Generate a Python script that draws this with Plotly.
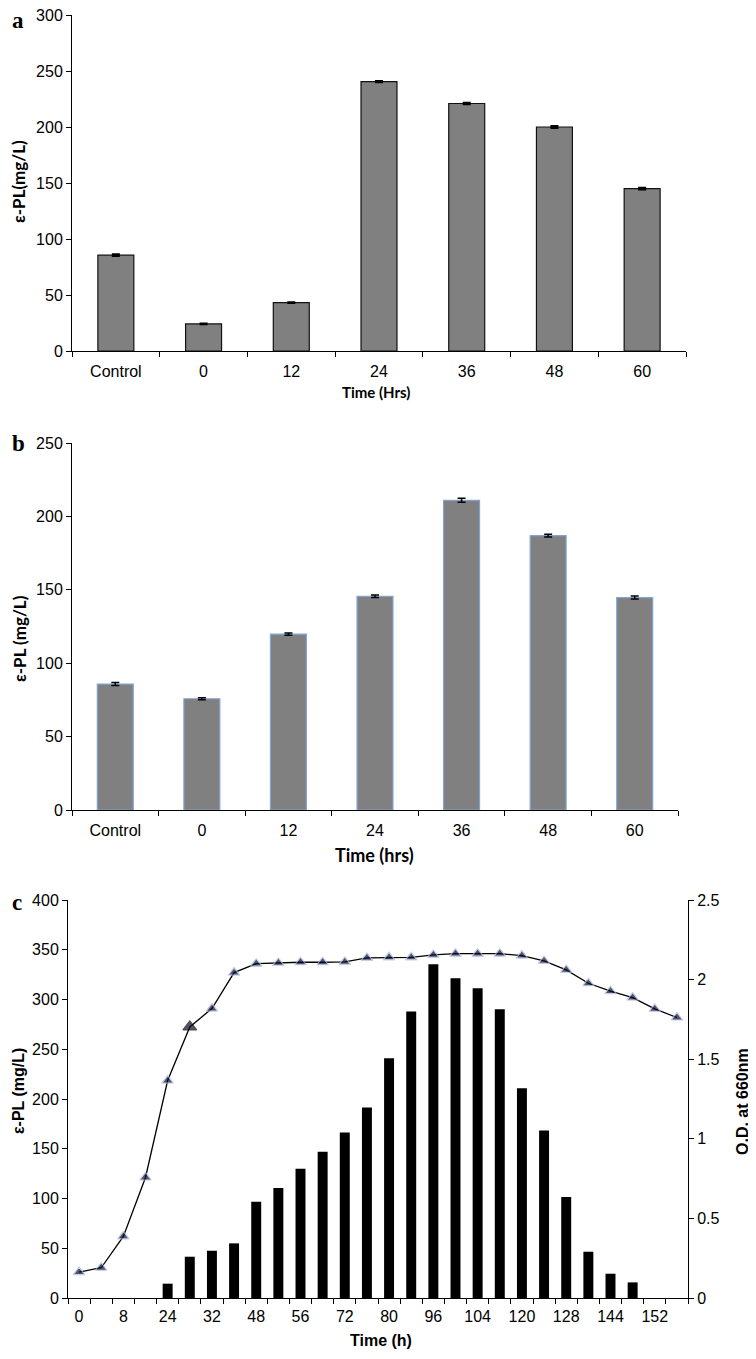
import plotly.graph_objects as go

# panel a - epsilon-PL after feeding at different times
cats_a = ["Control", "0", "12", "24", "36", "48", "60"]
epl_a = [85.6, 24.2, 43.2, 240.5, 221.0, 200.0, 145.0]
err_a = [0.8, 0.3, 0.4, 0.6, 0.7, 0.9, 0.7]

# panel b
cats_b = ["Control", "0", "12", "24", "36", "48", "60"]
epl_b = [85.8, 75.8, 119.8, 145.6, 211.0, 186.9, 144.7]
err_b = [1.0, 0.7, 0.8, 0.9, 1.4, 1.0, 1.0]

# panel c - time course, every other hour labelled on the axis
hours_c = [0, 4, 8, 12, 24, 28, 32, 36, 48, 52, 56, 60, 72, 76, 80, 84,
           96, 100, 104, 108, 120, 124, 128, 132, 144, 148, 152, 156]
epl_c = [None, None, None, None, 14.4, 41.5, 47.5, 54.9, 96.7, 110.5, 129.9, 147.0,
         166.4, 191.5, 241.0, 288.0, 335.4, 321.3, 311.3, 290.2, 210.9, 168.4,
         101.4, 46.5, 24.4, 15.7, None, None]
od_c = [0.163, 0.19, 0.387, 0.757, 1.366, 1.703, 1.818, 2.044, 2.100, 2.105, 2.109,
        2.109, 2.111, 2.136, 2.14, 2.14, 2.155, 2.163, 2.163, 2.163, 2.151, 2.117,
        2.061, 1.977, 1.927, 1.887, 1.816, 1.762]

# the page body keeps its default 8px margin, so the figure is 8px smaller
OFF = 8
W, H = 756 - OFF, 1359 - OFF
ARIAL = "Liberation Sans, Arial, sans-serif"
CALIBRI = "Lato, Calibri, sans-serif"


def py(px):
    # pixel row of the window -> paper fraction
    return 1 - (px - OFF) / H


def px_x(px):
    return (px - OFF) / W


cats_c = [str(h) for h in hours_c]
ticktext_c = [c if i % 2 == 0 else "" for i, c in enumerate(cats_c)]

fig = go.Figure()

fig.add_trace(go.Bar(
    x=cats_a, y=epl_a, width=0.41, xaxis="x", yaxis="y",
    marker=dict(color="#808080", line=dict(color="#111111", width=1.2)),
    error_y=dict(type="data", array=err_a, color="black", thickness=2, width=4),
))
fig.add_trace(go.Bar(
    x=cats_b, y=epl_b, width=0.415, xaxis="x2", yaxis="y2",
    marker=dict(color="#808080", line=dict(color="#7fa4d3", width=1.2)),
    error_y=dict(type="data", array=err_b, color="black", thickness=1.5, width=4),
))
fig.add_trace(go.Bar(
    x=cats_c, y=epl_c, width=0.45, xaxis="x3", yaxis="y3",
    marker=dict(color="black", line=dict(width=0)),
))
sizes = [10] * len(od_c)
sizes[5] = 12
outline = ["#a9bcd9"] * len(od_c)
outline[5] = "black"
fig.add_trace(go.Scatter(
    x=cats_c, y=od_c, xaxis="x3", yaxis="y4", mode="lines+markers",
    line=dict(color="black", width=1.3),
    marker=dict(symbol="triangle-up", size=sizes, color="#0b0b2e",
                line=dict(color=outline, width=1.2)),
))

common_x = dict(type="category", showline=True, linecolor="black", linewidth=1,
                ticks="outside", tickson="boundaries", ticklen=5, tickcolor="black",
                showgrid=False, zeroline=False, tickangle=0, ticklabelstandoff=6,
                tickfont=dict(family=ARIAL, size=16, color="black"))
common_y = dict(showline=True, linecolor="black", linewidth=1, ticks="outside",
                ticklen=5, tickcolor="black", showgrid=False, zeroline=False,
                ticklabeloverflow="allow",
                tickfont=dict(family=ARIAL, size=16, color="black"))

fig.update_layout(
    width=W, height=H, margin=dict(l=0, r=0, t=0, b=0, autoexpand=False),
    paper_bgcolor="white", plot_bgcolor="white", showlegend=False,
    xaxis=dict(common_x, domain=[px_x(72), px_x(686)], anchor="y", range=[-0.5, 6.5]),
    yaxis=dict(common_y, domain=[py(351), py(15)], anchor="x", range=[0, 300], dtick=50),
    xaxis2=dict(common_x, domain=[px_x(72), px_x(678)], anchor="y2", range=[-0.5, 6.5]),
    yaxis2=dict(common_y, domain=[py(810), py(443)], anchor="x2", range=[0, 250], dtick=50),
    xaxis3=dict(common_x, domain=[px_x(68), px_x(688)], anchor="y3", range=[-0.5, 27.5],
                tickvals=cats_c, ticktext=ticktext_c, ticklabelstandoff=4),
    yaxis3=dict(common_y, domain=[py(1298), py(900)], anchor="x3", range=[0, 400], dtick=50),
    yaxis4=dict(common_y, overlaying="y3", side="right", anchor="x3",
                range=[0, 2.5], dtick=0.5),
)

annotations = [
    # panel letters
    dict(text="a", x=px_x(18), y=py(21)),
    dict(text="b", x=px_x(18), y=py(443)),
    dict(text="c", x=px_x(17), y=py(902)),
]
for a in annotations:
    a.update(font=dict(family="Liberation Serif, Times New Roman, serif", size=23,
                       color="black", weight="bold"))

annotations += [
    dict(text="ε-PL(mg/L)", x=px_x(18), y=py(182), textangle=-90,
         font=dict(family=CALIBRI, size=17, color="black", weight="bold")),
    dict(text="Time (Hrs)", x=px_x(376), y=py(392),
         font=dict(family=CALIBRI, size=15, color="black", weight="bold")),
    dict(text="ε-PL (mg/L)", x=px_x(19), y=py(639), textangle=-90,
         font=dict(family=CALIBRI, size=17, color="black", weight="bold")),
    dict(text="Time (hrs)", x=px_x(374), y=py(855),
         font=dict(family=CALIBRI, size=18, color="black", weight="bold")),
    dict(text="ε-PL (mg/L)", x=px_x(18), y=py(1091), textangle=-90,
         font=dict(family=ARIAL, size=16, color="black", weight="bold")),
    dict(text="O.D. at 660nm", x=px_x(742), y=py(1102), textangle=-90,
         font=dict(family=ARIAL, size=16, color="black", weight="bold")),
    dict(text="Time (h)", x=px_x(381), y=py(1340),
         font=dict(family=ARIAL, size=16, color="black", weight="bold")),
]
for a in annotations:
    a.update(xref="paper", yref="paper", showarrow=False,
             xanchor="center", yanchor="middle")
fig.update_layout(annotations=annotations)

fig.write_html("out.html")
